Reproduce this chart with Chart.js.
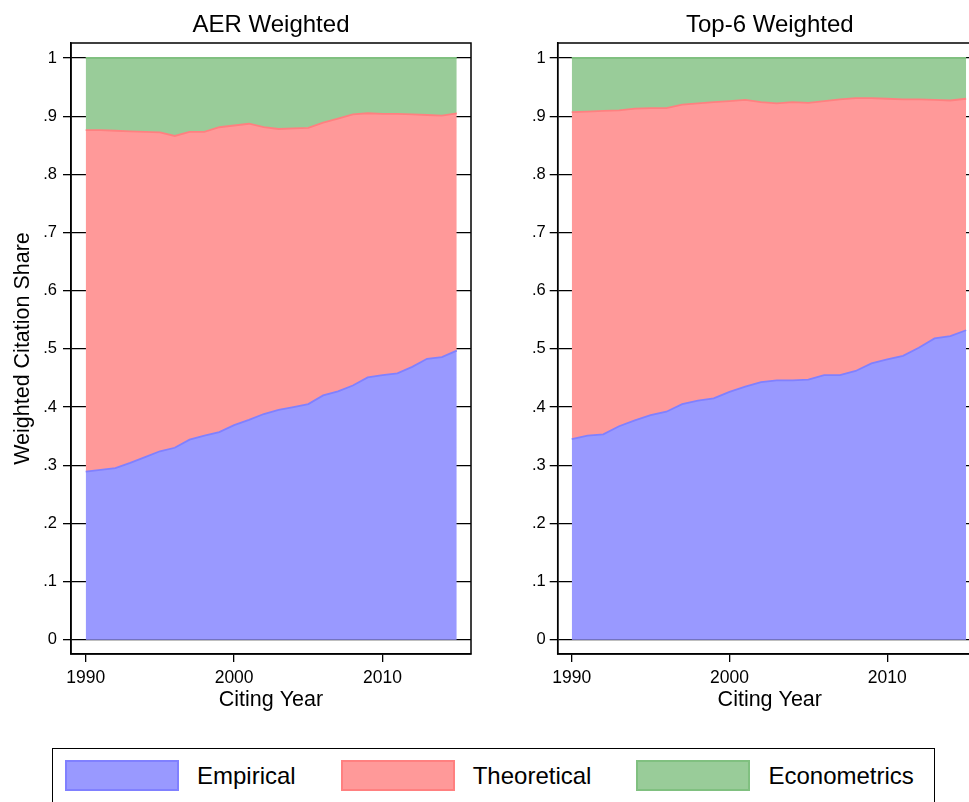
<!DOCTYPE html>
<html>
<head>
<meta charset="utf-8">
<script src="https://cdn.jsdelivr.net/npm/chart.js@4.4.0/dist/chart.umd.min.js"></script>
<style>
  html, body { margin: 0; padding: 0; background: #fff; width: 969px; height: 802px; overflow: hidden; }
  canvas { position: absolute; top: 0; }
  #aerChart { left: 0; }
  #top6Chart { left: 480px; }
  #legend {
    position: absolute; left: 52px; top: 748px; width: 883px; height: 80px;
    border: 1.5px solid #000; box-sizing: border-box;
    font-family: "Liberation Sans", Arial, sans-serif; font-size: 24px; color: #000;
    display: flex; align-items: flex-start; padding: 11px 0 0 12px;
  }
  .item { display: flex; align-items: center; margin-right: 45px; }
  .swatch { width: 114px; height: 31px; box-sizing: border-box; border: 2px solid; margin-right: 18px; }
</style>
</head>
<body>
<canvas id="aerChart" width="480" height="714"></canvas>
<canvas id="top6Chart" width="510" height="714"></canvas>
<div id="legend"></div>
<script>
// data (shares of weighted citations)
const years = [1990, 1991, 1992, 1993, 1994, 1995, 1996, 1997, 1998, 1999, 2000, 2001, 2002,
               2003, 2004, 2005, 2006, 2007, 2008, 2009, 2010, 2011, 2012, 2013, 2014, 2015];

const aerEmpirical    = [0.289, 0.292, 0.295, 0.304, 0.314, 0.324, 0.330, 0.344, 0.351, 0.357, 0.369, 0.378, 0.388,
                         0.395, 0.400, 0.405, 0.420, 0.427, 0.437, 0.451, 0.455, 0.458, 0.469, 0.483, 0.486, 0.497];
const aerTheoretical  = [0.587, 0.584, 0.580, 0.570, 0.559, 0.548, 0.536, 0.529, 0.522, 0.524, 0.515, 0.509, 0.493,
                         0.483, 0.479, 0.475, 0.469, 0.469, 0.466, 0.454, 0.449, 0.446, 0.434, 0.419, 0.415, 0.408];
const aerEconometrics = [0.124, 0.124, 0.125, 0.126, 0.127, 0.128, 0.134, 0.127, 0.127, 0.119, 0.116, 0.113, 0.119,
                         0.122, 0.121, 0.120, 0.111, 0.104, 0.097, 0.095, 0.096, 0.096, 0.097, 0.098, 0.099, 0.095];

const top6Empirical    = [0.345, 0.351, 0.353, 0.367, 0.377, 0.386, 0.392, 0.405, 0.411, 0.415, 0.426, 0.435, 0.443,
                          0.446, 0.446, 0.447, 0.455, 0.455, 0.462, 0.475, 0.482, 0.488, 0.502, 0.518, 0.522, 0.532];
const top6Theoretical  = [0.562, 0.557, 0.556, 0.543, 0.536, 0.528, 0.522, 0.515, 0.511, 0.509, 0.500, 0.493, 0.481,
                          0.476, 0.478, 0.476, 0.471, 0.474, 0.469, 0.456, 0.448, 0.441, 0.427, 0.410, 0.405, 0.398];
const top6Econometrics = [0.093, 0.092, 0.091, 0.090, 0.087, 0.086, 0.086, 0.080, 0.078, 0.076, 0.074, 0.072, 0.076,
                          0.078, 0.076, 0.077, 0.074, 0.071, 0.069, 0.069, 0.070, 0.071, 0.071, 0.072, 0.073, 0.070];

const seriesNames = ['Empirical', 'Theoretical', 'Econometrics'];
const fillColors  = ['#9999ff', '#ff9999', '#99cc99'];
const lineColors  = ['#8080ff', '#ff8080', '#80c080'];

const xTicks = [1990, 2000, 2010];
const yTicks = [0, 0.1, 0.2, 0.3, 0.4, 0.5, 0.6, 0.7, 0.8, 0.9, 1];
const yTickLabels = ['0', '.1', '.2', '.3', '.4', '.5', '.6', '.7', '.8', '.9', '1'];

Chart.defaults.font.family = '"Liberation Sans", Arial, sans-serif';
Chart.defaults.color = '#000';

// box around the plot region, like the Stata graph region
const frame = {
    id: 'frame',
    afterDraw(chart) {
        const a = chart.chartArea, c = chart.ctx;
        c.save();
        c.strokeStyle = '#000';
        c.lineWidth = 1.5;
        c.strokeRect(a.left, a.top, a.right - a.left, a.bottom - a.top);
        c.restore();
    }
};

function makePanel(id, title, series, o) {
    const datasets = series.map((vals, k) => ({
        label: seriesNames[k],
        data: years.map((yr, i) => ({x: yr, y: vals[i]})),
        backgroundColor: fillColors[k],
        borderColor: lineColors[k],
        borderWidth: 1.8,
        pointRadius: 0,
        tension: 0,
        fill: k === 0 ? 'origin' : '-1'
    }));
    return new Chart(document.getElementById(id), {
        type: 'line',
        data: {datasets: datasets},
        plugins: [frame],
        options: {
            responsive: false,
            animation: false,
            layout: {padding: {left: 0, top: 0, bottom: 0, right: o.padRight}},
            scales: {
                x: {
                    type: 'linear', min: o.xMin, max: o.xMax,
                    afterBuildTicks: s => { s.ticks = xTicks.map(v => ({value: v})); },
                    afterFit: s => { s.height = 60; },
                    grid: {drawOnChartArea: false, drawTicks: true, tickLength: 8, color: '#000', lineWidth: 1.3},
                    border: {display: true, color: '#000', width: 1.5},
                    ticks: {font: {size: 17.5}, padding: 6, maxRotation: 0, autoSkip: false,
                            callback: v => String(v)},
                    title: {display: true, text: 'Citing Year', font: {size: 21.5}, padding: {top: 0, bottom: 1}}
                },
                y: {
                    type: 'linear', stacked: true, min: -0.0245, max: 1.0258,
                    afterBuildTicks: s => { s.ticks = yTicks.map(v => ({value: v})); },
                    afterFit: s => { s.width = o.yWidth; },
                    grid: {color: '#000', lineWidth: 1.3, drawTicks: true, tickLength: 8},
                    border: {display: true, color: '#000', width: 1.5},
                    ticks: {font: {size: 16.5}, padding: o.tickPad, autoSkip: false,
                            callback: (v, i) => yTickLabels[i]},
                    title: {display: o.yTitle, text: 'Weighted Citation Share', font: {size: 21.5},
                            padding: {top: 10, bottom: 0}}
                }
            },
            plugins: {
                title: {display: true, text: title, fullSize: false, color: '#000',
                        font: {size: 24, weight: 'normal'}, padding: {top: 11.4, bottom: 2.8}},
                legend: {display: false},
                tooltip: {enabled: false}
            }
        }
    });
}

makePanel('aerChart', 'AER Weighted', [aerEmpirical, aerTheoretical, aerEconometrics],
          {xMin: 1989.01, xMax: 2015.96, yWidth: 71, padRight: 9, tickPad: 6, yTitle: true});
makePanel('top6Chart', 'Top-6 Weighted', [top6Empirical, top6Theoretical, top6Econometrics],
          {xMin: 1989.11, xMax: 2016.0, yWidth: 77.7, padRight: 8.1, tickPad: 4, yTitle: false});

// shared legend under both panels
const legend = document.getElementById('legend');
seriesNames.forEach((name, k) => {
    const item = document.createElement('div');
    item.className = 'item';
    const sw = document.createElement('div');
    sw.className = 'swatch';
    sw.style.background = fillColors[k];
    sw.style.borderColor = lineColors[k];
    const label = document.createElement('span');
    label.textContent = name;
    item.appendChild(sw);
    item.appendChild(label);
    legend.appendChild(item);
});
</script>
</body>
</html>
